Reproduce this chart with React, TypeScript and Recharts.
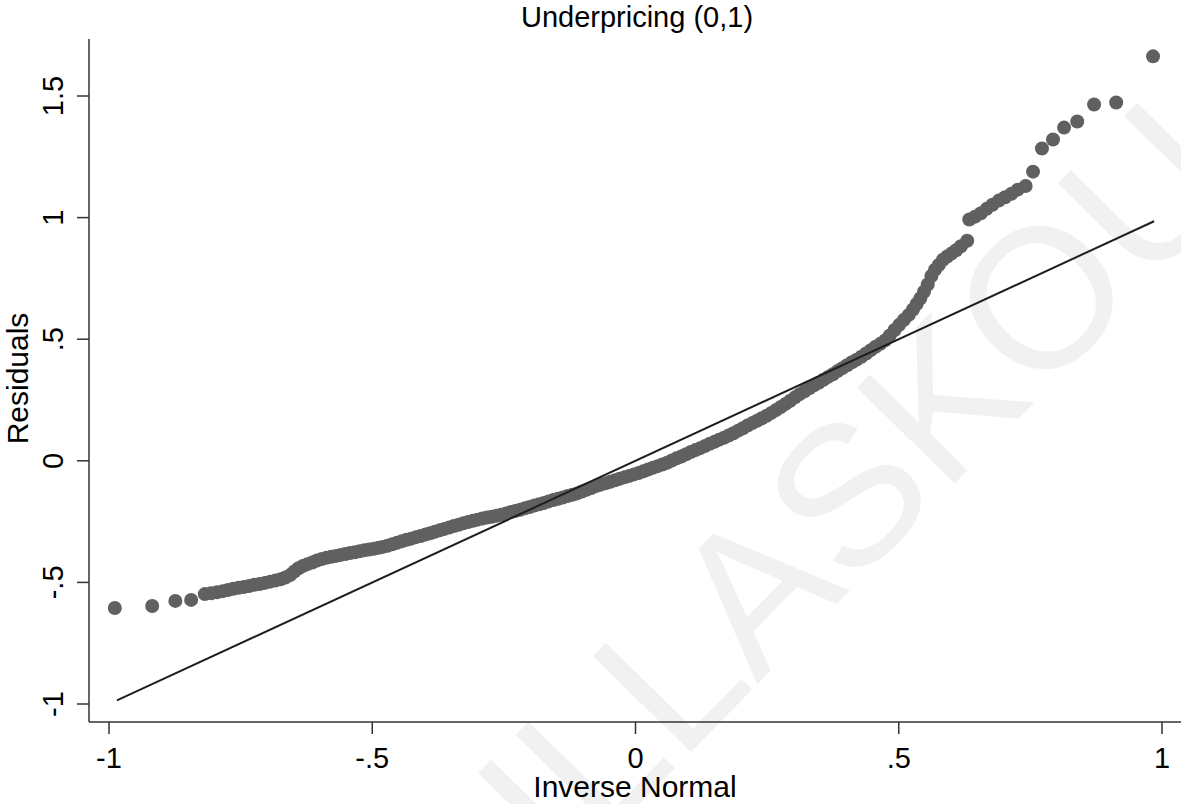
import { ScatterChart, Scatter, XAxis, YAxis } from 'recharts';

// residuals against inverse normal quantiles
const residX = [
  -0.989, -0.918, -0.874, -0.844, -0.818, -0.806, -0.795, -0.784, -0.774, -0.764,
  -0.754, -0.744, -0.734, -0.724, -0.714, -0.704, -0.694, -0.684, -0.674, -0.665,
  -0.656, -0.648, -0.640, -0.632, -0.623, -0.614, -0.605, -0.596, -0.587, -0.578,
  -0.569, -0.560, -0.551, -0.542, -0.533, -0.524, -0.515, -0.506, -0.497, -0.488,
  -0.480, -0.471, -0.462, -0.453, -0.444, -0.435, -0.426, -0.417, -0.408, -0.399,
  -0.390, -0.381, -0.372, -0.363, -0.354, -0.345, -0.336, -0.327, -0.318, -0.309,
  -0.300, -0.291, -0.282, -0.273, -0.264, -0.255, -0.246, -0.237, -0.228, -0.219,
  -0.210, -0.201, -0.192, -0.183, -0.174, -0.165, -0.156, -0.147, -0.138, -0.129,
  -0.120, -0.111, -0.102, -0.093, -0.084, -0.075, -0.066, -0.057, -0.048, -0.039,
  -0.030, -0.021, -0.012, -0.003, 0.006, 0.015, 0.024, 0.033, 0.042, 0.051,
  0.060, 0.069, 0.078, 0.087, 0.096, 0.105, 0.114, 0.123, 0.132, 0.141,
  0.150, 0.159, 0.168, 0.177, 0.186, 0.195, 0.204, 0.213, 0.222, 0.231,
  0.240, 0.249, 0.258, 0.267, 0.276, 0.285, 0.294, 0.303, 0.312, 0.321,
  0.330, 0.339, 0.348, 0.357, 0.366, 0.375, 0.384, 0.393, 0.402, 0.411,
  0.420, 0.429, 0.438, 0.447, 0.456, 0.465, 0.474, 0.483, 0.492, 0.501,
  0.510, 0.519, 0.527, 0.534, 0.541, 0.548, 0.555, 0.562, 0.569, 0.576,
  0.584, 0.592, 0.600, 0.609, 0.618, 0.630, 0.634, 0.645, 0.656, 0.667,
  0.678, 0.690, 0.702, 0.714, 0.726, 0.741, 0.755, 0.772, 0.793, 0.814,
  0.839, 0.871, 0.913, 0.983,
];

const residY = [
  -0.605, -0.597, -0.576, -0.572, -0.548, -0.545, -0.541, -0.536, -0.531, -0.526,
  -0.522, -0.519, -0.515, -0.510, -0.507, -0.502, -0.497, -0.492, -0.487, -0.480,
  -0.470, -0.455, -0.442, -0.433, -0.425, -0.418, -0.410, -0.404, -0.399, -0.395,
  -0.391, -0.387, -0.383, -0.379, -0.376, -0.372, -0.368, -0.365, -0.362, -0.358,
  -0.354, -0.349, -0.343, -0.337, -0.331, -0.325, -0.320, -0.314, -0.309, -0.303,
  -0.298, -0.292, -0.286, -0.280, -0.274, -0.268, -0.263, -0.257, -0.252, -0.247,
  -0.242, -0.237, -0.233, -0.230, -0.226, -0.222, -0.217, -0.211, -0.206, -0.201,
  -0.195, -0.190, -0.184, -0.179, -0.173, -0.167, -0.161, -0.156, -0.151, -0.145,
  -0.140, -0.134, -0.126, -0.119, -0.112, -0.104, -0.098, -0.092, -0.086, -0.080,
  -0.074, -0.068, -0.062, -0.056, -0.050, -0.043, -0.036, -0.029, -0.022, -0.015,
  -0.008, 0.001, 0.010, 0.018, 0.027, 0.036, 0.044, 0.052, 0.061, 0.070,
  0.078, 0.087, 0.095, 0.104, 0.113, 0.124, 0.134, 0.145, 0.155, 0.165,
  0.175, 0.185, 0.197, 0.209, 0.221, 0.234, 0.247, 0.261, 0.274, 0.286,
  0.298, 0.310, 0.321, 0.333, 0.345, 0.356, 0.369, 0.381, 0.393, 0.405,
  0.416, 0.428, 0.441, 0.455, 0.469, 0.481, 0.495, 0.515, 0.538, 0.559,
  0.580, 0.600, 0.622, 0.645, 0.668, 0.695, 0.725, 0.760, 0.786, 0.805,
  0.827, 0.840, 0.852, 0.866, 0.882, 0.905, 0.992, 1.004, 1.018, 1.036,
  1.053, 1.070, 1.084, 1.098, 1.115, 1.130, 1.189, 1.284, 1.321, 1.370,
  1.395, 1.465, 1.473, 1.663,
];

// reference line y = x over the range of the quantiles
const refX = [-0.985, 0.985];
const refY = [-0.985, 0.985];

const xTicks = [-1, -0.5, 0, 0.5, 1];
const xTickLabels = ['-1', '-.5', '0', '.5', '1'];
const yTicks = [-1, -0.5, 0, 0.5, 1, 1.5];
const yTickLabels = ['-1', '-.5', '0', '.5', '1', '1.5'];

const FONT = '"Liberation Sans", Arial, Helvetica, sans-serif';
const AXIS = '#333333';

const points = residX.map((x, i) => ({ x, y: residY[i] }));
const refLine = refX.map((x, i) => ({ x, y: refY[i] }));

function Dot(props: any) {
  if (props.cx == null || props.cy == null) return <g />;
  return <circle cx={props.cx} cy={props.cy} r={7} fill="#606060" />;
}

function NoDot() {
  return <g />;
}

function XTick({ x, y, payload }: any) {
  const i = xTicks.indexOf(payload.value);
  return (
    <text x={x} y={y + 34} textAnchor="middle" fontSize={29} fontFamily={FONT} fill="#000">
      {xTickLabels[i]}
    </text>
  );
}

function YTick({ x, y, payload }: any) {
  const i = yTicks.indexOf(payload.value);
  const bx = x - 14;
  return (
    <text
      x={bx}
      y={y}
      transform={`rotate(-90, ${bx}, ${y})`}
      textAnchor="middle"
      fontSize={29}
      fontFamily={FONT}
      fill="#000"
    >
      {yTickLabels[i]}
    </text>
  );
}

export default function App() {
  return (
    <div style={{ position: 'absolute', left: 0, top: 0, width: 1181, height: 804, background: '#fff' }}>
      <svg width={1181} height={804} style={{ position: 'absolute', left: 0, top: 0 }}>
        <text
          x={563}
          y={882}
          transform="rotate(-45.5, 563, 882)"
          fontSize={199}
          fontFamily={FONT}
          fill="#f1f1f1"
        >
          ILLASKOU
        </text>
        <text x={637} y={27} textAnchor="middle" fontSize={29} fontFamily={FONT} fill="#000">
          Underpricing (0,1)
        </text>
      </svg>
      <div style={{ position: 'absolute', left: 0, top: 0 }}>
        <ScatterChart width={1181} height={804} margin={{ top: 39, right: 0, bottom: 0, left: 0 }}>
          <XAxis
            type="number"
            dataKey="x"
            domain={[-1.038, 1.0361]}
            allowDataOverflow
            ticks={xTicks}
            tick={<XTick />}
            tickSize={12}
            tickMargin={0}
            height={82}
            axisLine={{ stroke: AXIS, strokeWidth: 1.5 }}
            tickLine={{ stroke: AXIS, strokeWidth: 1.5 }}
            label={{
              content: ({ viewBox }: any) => (
                <text
                  x={viewBox.x + viewBox.width / 2}
                  y={viewBox.y + 75}
                  textAnchor="middle"
                  fontSize={30}
                  fontFamily={FONT}
                  fill="#000"
                >
                  Inverse Normal
                </text>
              ),
            }}
          />
          <YAxis
            type="number"
            dataKey="y"
            domain={[-1.074, 1.7344]}
            allowDataOverflow
            ticks={yTicks}
            tick={<YTick />}
            tickSize={12}
            tickMargin={0}
            width={89}
            axisLine={{ stroke: AXIS, strokeWidth: 1.5 }}
            tickLine={{ stroke: AXIS, strokeWidth: 1.5 }}
            label={{
              content: ({ viewBox }: any) => {
                const cx = 28;
                const cy = viewBox.y + viewBox.height / 2 - 2;
                return (
                  <text
                    x={cx}
                    y={cy}
                    transform={`rotate(-90, ${cx}, ${cy})`}
                    textAnchor="middle"
                    fontSize={30}
                    fontFamily={FONT}
                    fill="#000"
                  >
                    Residuals
                  </text>
                );
              },
            }}
          />
          <Scatter data={points} shape={<Dot />} isAnimationActive={false} />
          <Scatter
            data={refLine}
            shape={<NoDot />}
            line={{ stroke: '#1e1e1e', strokeWidth: 2 }}
            isAnimationActive={false}
          />
        </ScatterChart>
      </div>
    </div>
  );
}
